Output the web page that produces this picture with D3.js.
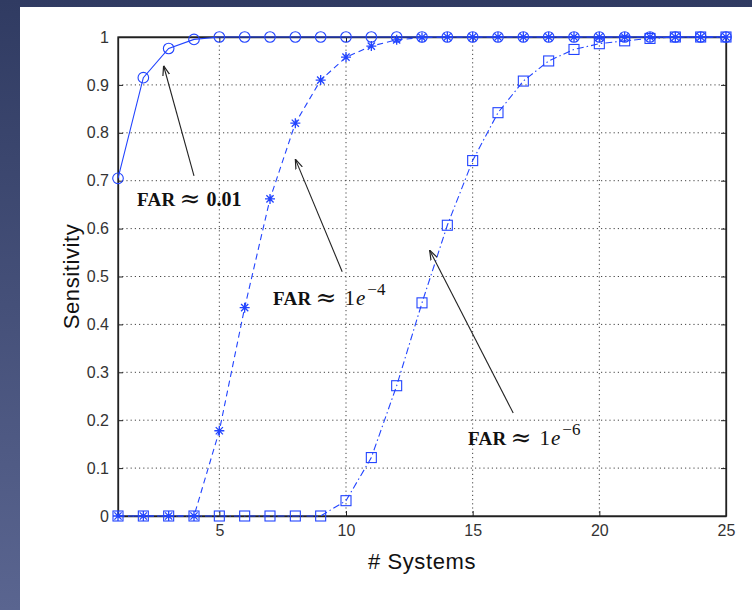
<!DOCTYPE html>
<html>
<head>
<meta charset="utf-8">
<script src="https://cdn.jsdelivr.net/npm/d3@7"></script>
<style>
  body { margin: 0; padding: 0; overflow: hidden; }
  svg { display: block; }
</style>
</head>
<body>
<div id="chart"></div>
<script>
const width = 752;
const height = 610;
const margin = { top: 37, right: 26, bottom: 94, left: 118 };

// data
const systems = d3.range(1, 26);
const far001 = [0.705, 0.915, 0.976, 0.995, 1, 1, 1, 1, 1, 1, 1, 1, 1, 1, 1, 1, 1, 1, 1, 1, 1, 1, 1, 1, 1];
const far1e4 = [0, 0, 0, 0, 0.178, 0.435, 0.662, 0.82, 0.91, 0.958, 0.981, 0.994, 0.999, 1, 1, 1, 1, 1, 1, 1, 1, 1, 1, 1, 1];
const far1e6 = [0, 0, 0, 0, 0, 0, 0, 0, 0, 0.032, 0.122, 0.272, 0.445, 0.607, 0.742, 0.842, 0.908, 0.95, 0.974, 0.986, 0.992, 0.997, 1, 1, 1];
const xTicks = [5, 10, 15, 20, 25];
const yTicks = d3.range(0, 11).map((d) => d / 10);

const blue = "#2244ff";
const sans = "Liberation Sans, Arial, sans-serif";
const serif = "Liberation Serif, Times New Roman, serif";

const svg = d3
  .select("#chart")
  .append("svg")
  .attr("width", width)
  .attr("height", height);

// slide background
const defs = svg.append("defs");
const grad = defs.append("linearGradient")
  .attr("id", "bg").attr("x1", 0).attr("y1", 0).attr("x2", 0).attr("y2", 1);
grad.append("stop").attr("offset", "0%").attr("stop-color", "#303b62");
grad.append("stop").attr("offset", "100%").attr("stop-color", "#5a6590");
svg.append("rect").attr("width", width).attr("height", height).attr("fill", "url(#bg)");
svg.append("rect").attr("x", 20).attr("y", 7).attr("width", width - 20).attr("height", height - 7).attr("fill", "#fff");

const innerW = width - margin.left - margin.right;
const innerH = height - margin.top - margin.bottom;

const g = svg.append("g").attr("transform", `translate(${margin.left},${margin.top})`);

const x = d3.scaleLinear().domain([1, 25]).range([0, innerW]);
const y = d3.scaleLinear().domain([0, 1]).range([innerH, 0]);

// dotted grid
g.selectAll(".gx")
  .data(xTicks.filter((d) => d < 25))
  .enter().append("line")
  .attr("x1", (d) => x(d)).attr("x2", (d) => x(d))
  .attr("y1", 0).attr("y2", innerH)
  .attr("stroke", "#444").attr("stroke-width", 1).attr("stroke-dasharray", "1.2,3");
g.selectAll(".gy")
  .data(yTicks.filter((d) => d > 0 && d < 1))
  .enter().append("line")
  .attr("x1", 0).attr("x2", innerW)
  .attr("y1", (d) => y(d)).attr("y2", (d) => y(d))
  .attr("stroke", "#444").attr("stroke-width", 1).attr("stroke-dasharray", "1.2,3");

// axes (ticks pointing inward, MATLAB style)
const xAxis = g.append("g")
  .attr("transform", `translate(0,${innerH})`)
  .call(d3.axisBottom(x).tickValues(xTicks).tickSizeInner(-5).tickSizeOuter(0).tickPadding(9));
const yAxis = g.append("g")
  .call(d3.axisLeft(y).tickValues(yTicks).tickFormat((d) => d3.format("~g")(d)).tickSizeInner(-5).tickSizeOuter(0).tickPadding(9));
g.append("g")
  .call(d3.axisRight(y).tickValues(yTicks).tickFormat("").tickSizeInner(-5).tickSizeOuter(0))
  .attr("transform", `translate(${innerW},0)`);
g.append("g")
  .call(d3.axisTop(x).tickValues(xTicks).tickFormat("").tickSizeInner(-5).tickSizeOuter(0));

g.selectAll(".domain").attr("stroke", "#222").attr("stroke-width", 1.3);
g.selectAll(".tick line").attr("stroke", "#222");
[xAxis, yAxis].forEach((a) =>
  a.selectAll("text")
    .attr("font-family", sans)
    .attr("font-size", 16)
    .attr("fill", "#333"));

// box
g.append("rect").attr("width", innerW).attr("height", innerH)
  .attr("fill", "none").attr("stroke", "#222").attr("stroke-width", 1.3);

// series
const series = [
  { values: far001, dash: null, marker: "circle" },
  { values: far1e4, dash: "6,4", marker: "star" },
  { values: far1e6, dash: "7,3,1.5,3", marker: "square" },
];

const line = d3.line().x((d) => x(d[0])).y((d) => y(d[1]));

series.forEach((s) => {
  const pts = systems.map((v, i) => [v, s.values[i]]);
  g.append("path")
    .datum(pts)
    .attr("d", line)
    .attr("fill", "none")
    .attr("stroke", blue)
    .attr("stroke-width", 1.1)
    .attr("stroke-dasharray", s.dash);

  const m = g.append("g").selectAll("g").data(pts).enter().append("g")
    .attr("transform", (d) => `translate(${x(d[0])},${y(d[1])})`);
  if (s.marker === "circle") {
    m.append("circle").attr("r", 5.3).attr("fill", "none").attr("stroke", blue).attr("stroke-width", 1.1);
  } else if (s.marker === "star") {
    m.append("path")
      .attr("d", "M-5,0H5M0,-5V5M-3.6,-3.6L3.6,3.6M-3.6,3.6L3.6,-3.6")
      .attr("stroke", blue).attr("stroke-width", 1.3);
  } else {
    m.append("rect").attr("x", -5).attr("y", -5).attr("width", 10).attr("height", 10)
      .attr("fill", "none").attr("stroke", blue).attr("stroke-width", 1.1);
  }
});

// axis labels
svg.append("text")
  .attr("x", margin.left + innerW / 2)
  .attr("y", 569)
  .attr("text-anchor", "middle")
  .attr("font-family", sans)
  .attr("font-size", 22)
  .attr("letter-spacing", 0.6)
  .attr("fill", "#111")
  .text("# Systems");
svg.append("text")
  .attr("transform", `translate(79,${margin.top + innerH / 2}) rotate(-90)`)
  .attr("text-anchor", "middle")
  .attr("font-family", sans)
  .attr("font-size", 22)
  .attr("letter-spacing", 0.6)
  .attr("fill", "#111")
  .text("Sensitivity");

// annotations: arrow tail -> head in data units, label position in pixels
const notes = [
  { label: "0.01", sup: null, tx: 137, ty: 206, from: [4.0, 0.71], to: [2.8, 0.94] },
  { label: "1e", sup: "\u22124", tx: 273, ty: 305, from: [9.85, 0.51], to: [8.0, 0.745] },
  { label: "1e", sup: "\u22126", tx: 468, ty: 445, from: [16.6, 0.215], to: [13.3, 0.555] },
];

defs.append("marker")
  .attr("id", "arrow").attr("viewBox", "0 0 10 10")
  .attr("refX", 10).attr("refY", 5)
  .attr("markerWidth", 9).attr("markerHeight", 9)
  .attr("orient", "auto")
  .append("path").attr("d", "M0,1.5L10,5L0,8.5").attr("fill", "none").attr("stroke", "#222").attr("stroke-width", 1.2);

notes.forEach((n) => {
  g.append("line")
    .attr("x1", x(n.from[0])).attr("y1", y(n.from[1]))
    .attr("x2", x(n.to[0])).attr("y2", y(n.to[1]))
    .attr("stroke", "#222").attr("stroke-width", 1.1)
    .attr("marker-end", "url(#arrow)");

  const t = svg.append("text")
    .attr("x", n.tx).attr("y", n.ty)
    .attr("font-family", serif)
    .attr("font-size", 19)
    .attr("fill", "#111");
  t.append("tspan").attr("font-weight", "bold").attr("letter-spacing", 0.3).text("FAR");
  t.append("tspan").attr("dx", 4).attr("font-family", "DejaVu Serif, serif").attr("font-size", 25).attr("dy", 1).text("\u2248");
  if (n.sup) {
    t.append("tspan").attr("dx", 8).attr("dy", -1).attr("font-size", 21).text("1");
    t.append("tspan").attr("dx", 1).attr("font-style", "italic").attr("font-size", 21).text("e");
    t.append("tspan").attr("dx", 2).attr("dy", -10).attr("font-size", 17).text(n.sup);
  } else {
    t.append("tspan").attr("dx", 6).attr("dy", -1).attr("font-weight", "bold").attr("font-size", 20).text(n.label);
  }
});
</script>
</body>
</html>
